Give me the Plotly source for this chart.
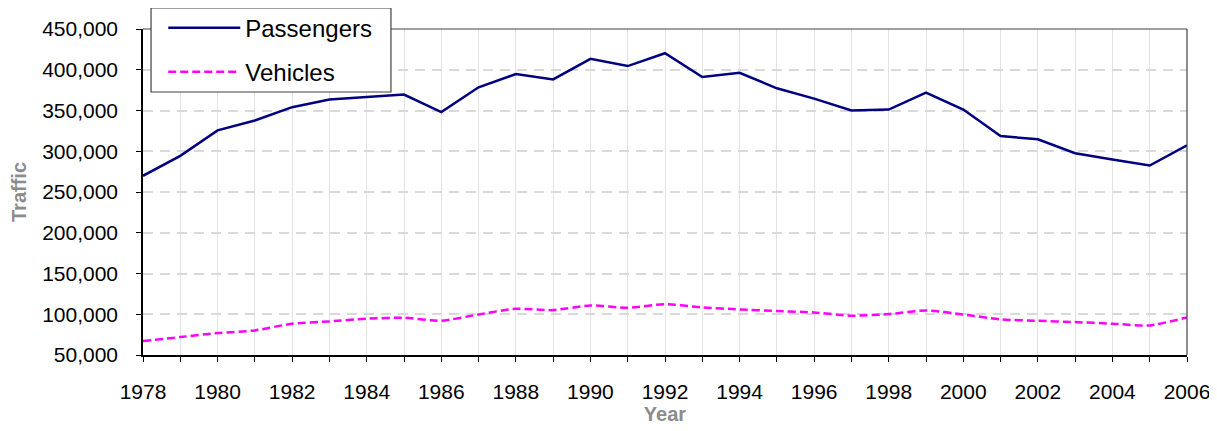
"""Passenger and vehicle traffic, 1978-2006."""

import plotly.graph_objects as go

years = list(range(1978, 2007))

passengers = [
    269900, 294300, 325600, 337800, 354100, 363400, 366700, 369500, 348000, 378500,
    394700, 388200, 413400, 404500, 420300, 391100, 396300, 377200, 364600, 350000,
    351200, 372000, 351200, 318700, 314600, 297600, 289800, 282500, 307300,
]

vehicles = [
    67100, 72000, 76900, 80200, 88400, 91200, 94500, 95700, 92000, 99800,
    106700, 105100, 110800, 108000, 112400, 108400, 105900, 103900, 102200, 98200,
    100200, 104700, 99800, 93700, 92000, 90400, 88400, 86300, 96100,
]

FONT = "Liberation Sans, Arial, sans-serif"
GREY_TITLE = "#8c8c8c"
FRAME = "#404040"

# the page body adds an 8px offset, so margins are shifted to compensate
fig = go.Figure()
fig.add_trace(
    go.Scatter(
        x=years,
        y=passengers,
        mode="lines",
        name="Passengers",
        legendgroup="p",
        line=dict(color="#000080", width=2.5),
    )
)
fig.add_trace(
    go.Scatter(
        x=years,
        y=vehicles,
        mode="lines",
        name="Vehicles",
        legendgroup="v",
        line=dict(color="#ff00ff", width=2.5, dash="8px,4px", shape="spline", smoothing=0.6),
    )
)

# top / right frame of the plot area
fig.add_shape(type="line", xref="paper", yref="paper", x0=0, x1=1, y0=1, y1=1,
              line=dict(color=FRAME, width=1.2), layer="above")
fig.add_shape(type="line", xref="paper", yref="paper", x0=1, x1=1, y0=0, y1=1,
              line=dict(color=FRAME, width=1.2), layer="above")
# legend box
fig.add_shape(type="rect", xref="paper", yref="paper",
              x0=0.0077, x1=0.2375, y0=0.8067, y1=1.0644,
              fillcolor="white", line=dict(color=FRAME, width=1.2), layer="above")

fig.update_layout(
    width=1217,
    height=431,
    margin=dict(l=135, r=38, t=21, b=84, autoexpand=False),
    paper_bgcolor="white",
    plot_bgcolor="white",
    font=dict(family=FONT, size=21, color="black"),
    legend=dict(
        x=0.0194,
        y=1.072,
        xanchor="left",
        yanchor="top",
        bgcolor="rgba(0,0,0,0)",
        borderwidth=0,
        font=dict(size=24, family=FONT, color="black"),
        itemwidth=72,
        tracegroupgap=10,
        traceorder="grouped",
    ),
    showlegend=True,
)

fig.update_xaxes(
    range=[1978, 2006],
    tickmode="linear",
    tick0=1978,
    dtick=2,
    ticks="outside",
    ticklen=5,
    tickcolor="black",
    ticklabelstandoff=12,
    showline=True,
    linecolor="black",
    linewidth=1.5,
    showgrid=True,
    gridcolor="#e3e3e3",
    gridwidth=1,
    minor=dict(dtick=1, ticks="outside", ticklen=5, tickcolor="black",
               showgrid=True, gridcolor="#e3e3e3", gridwidth=1),
    zeroline=False,
    title=dict(text="<b>Year</b>", font=dict(size=20, color=GREY_TITLE), standoff=0),
)
fig.update_yaxes(
    range=[50000, 450000],
    tickmode="linear",
    tick0=50000,
    dtick=50000,
    tickformat=",",
    ticks="outside",
    ticklen=5,
    tickcolor="black",
    ticklabelstandoff=14,
    showline=True,
    linecolor="black",
    linewidth=1.5,
    showgrid=True,
    gridcolor="#d9d9d9",
    gridwidth=2,
    griddash="10px,7px",
    zeroline=False,
    title=dict(text="<b>Traffic</b>", font=dict(size=20, color=GREY_TITLE), standoff=12),
)

fig.write_html("out.html")
